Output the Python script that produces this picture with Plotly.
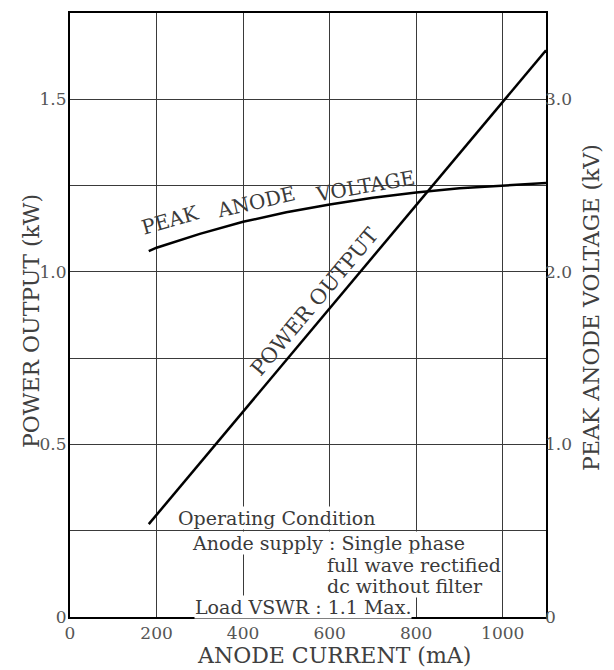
import plotly.graph_objects as go

# ---- data ----
power_current_ma = [182, 400, 600, 800, 1000, 1100]
power_output_kw = [0.269, 0.595, 0.895, 1.195, 1.494, 1.642]

voltage_current_ma = [182, 200, 300, 400, 500, 600, 700, 800, 900, 1000, 1100]
peak_anode_kv = [2.12, 2.14, 2.22, 2.29, 2.345, 2.39, 2.43, 2.46, 2.485, 2.50, 2.515]

x_ticks = [0, 200, 400, 600, 800, 1000]
x_ticklabels = ["0", "200", "400", "600", "800", "1000"]
left_ticks = [0, 0.25, 0.5, 0.75, 1.0, 1.25, 1.5]
left_ticklabels = ["0", "", "0.5", "", "1.0", "", "1.5"]
right_ticks = [0, 1.0, 2.0, 3.0]
right_ticklabels = ["0", "1.0", "2.0", "3.0"]

FONT = "DejaVu Serif"
TXT = "#3a3a3a"

fig = go.Figure()
fig.add_trace(go.Scatter(x=power_current_ma, y=power_output_kw, mode="lines",
                         line=dict(color="black", width=2.5), showlegend=False,
                         name="POWER OUTPUT"))
fig.add_trace(go.Scatter(x=voltage_current_ma, y=peak_anode_kv, mode="lines",
                         line=dict(color="black", width=2.5), showlegend=False,
                         name="PEAK ANODE VOLTAGE", yaxis="y2"))

ann = []
# curve labels
lab_font = dict(family=FONT, size=20, color=TXT)
ann.append(dict(x=232, y=1.150, xref="x", yref="y", text="PEAK", textangle=-16,
                showarrow=False, font=lab_font))
ann.append(dict(x=430, y=1.203, xref="x", yref="y", text="ANODE", textangle=-13,
                showarrow=False, font=lab_font))
ann.append(dict(x=682, y=1.249, xref="x", yref="y", text="VOLTAGE", textangle=-10,
                showarrow=False, font=lab_font))
ann.append(dict(x=565, y=0.913, xref="x", yref="y", text="POWER OUTPUT", textangle=-50,
                showarrow=False, font=dict(family=FONT, size=21, color=TXT)))

# operating condition block
cond_font = dict(family=FONT, size=19, color=TXT)
def block(text, x, y, anchor="left"):
    ann.append(dict(x=x, y=y, xref="x", yref="y", text=text, showarrow=False,
                    xanchor=anchor, yanchor="middle", bgcolor="white", borderpad=0,
                    font=cond_font))

block("Operating Condition", 248, 0.288)
block("Anode supply : Single phase", 280, 0.213)
block("full wave rectified", 592, 0.150)
block("dc without filter", 592, 0.090)
block("Load VSWR : 1.1 Max.", 286, 0.030)

# axis titles
title_font = dict(family=FONT, size=22, color="#404040")
ann.append(dict(x=-0.082, y=0.49, xref="paper", yref="paper", text="POWER OUTPUT (kW)",
                textangle=-90, showarrow=False, xanchor="center", yanchor="middle",
                font=title_font))
ann.append(dict(x=1.097, y=0.512, xref="paper", yref="paper", text="PEAK ANODE VOLTAGE (kV)",
                textangle=-90, showarrow=False, xanchor="center", yanchor="middle",
                font=title_font))
ann.append(dict(x=0.555, y=-0.064, xref="paper", yref="paper", text="ANODE CURRENT (mA)",
                showarrow=False, xanchor="center", yanchor="middle", font=title_font))

tick_font = dict(family=FONT, size=17, color="#555555")
# the page body adds an 8 px margin, so the figure is sized 8 px smaller
fig.update_layout(
    width=606, height=662,
    margin=dict(l=62, r=68, t=3, b=53),
    paper_bgcolor="white", plot_bgcolor="white",
    annotations=ann,
    xaxis=dict(range=[0, 1100], tickvals=x_ticks, ticktext=x_ticklabels,
               showgrid=True, gridcolor="#3a3a3a", gridwidth=1, zeroline=False,
               showline=True, linecolor="black", linewidth=2, mirror=True,
               ticks="", tickfont=tick_font),
    yaxis=dict(range=[0, 1.75], tickvals=left_ticks, ticktext=left_ticklabels,
               showgrid=True, gridcolor="#3a3a3a", gridwidth=1, zeroline=False,
               showline=True, linecolor="black", linewidth=2, mirror=True,
               ticks="", tickfont=tick_font, ticklabelstandoff=-2),
    yaxis2=dict(range=[0, 3.5], tickvals=right_ticks, ticktext=right_ticklabels,
                overlaying="y", side="right", showgrid=False, zeroline=False,
                showline=False, ticks="", tickfont=tick_font, ticklabelstandoff=-2),
)

fig.write_html("out.html")
